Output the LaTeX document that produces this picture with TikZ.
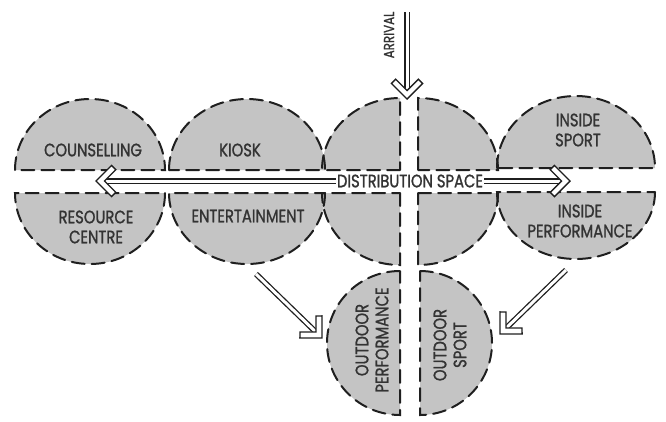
\documentclass[tikz,border=0pt]{standalone}
\usepackage{fontspec}
\setmainfont{Poppins}[FakeStretch=0.82,FakeBold=1.2]
\usetikzlibrary{calc}
\newcommand\allpieces[1]{%
  % left circle
  \path[#1] (15,170) arc[start angle=180,end angle=360,x radius=75,y radius=71] -- cycle;
  \path[#1] (165,193) arc[start angle=0,end angle=180,x radius=75,y radius=71] -- cycle;
  % kiosk / entertainment
  \path[#1] (169,170) arc[start angle=180,end angle=360,x radius=78,y radius=71] -- cycle;
  \path[#1] (325,193) arc[start angle=0,end angle=180,x radius=78,y radius=71] -- cycle;
  % central quarters
  \path[#1] (400,170) -- (322,170) arc[start angle=180,end angle=270,x radius=78,y radius=72] -- cycle;
  \path[#1] (418,170) -- (418,98) arc[start angle=270,end angle=360,x radius=80,y radius=72] -- cycle;
  \path[#1] (418,193) -- (498,193) arc[start angle=0,end angle=90,x radius=80,y radius=72] -- cycle;
  \path[#1] (400,193) -- (400,265) arc[start angle=90,end angle=180,x radius=78,y radius=72] -- cycle;
  % inside sport / performance
  \path[#1] (497,168) arc[start angle=180,end angle=360,x radius=79,y radius=72] -- cycle;
  \path[#1] (655,192) arc[start angle=0,end angle=180,x radius=79,y radius=67] -- cycle;
  % outdoor
  \path[#1] (400,271) arc[start angle=270,end angle=90,x radius=73,y radius=72] -- cycle;
  \path[#1] (420,271) arc[start angle=-90,end angle=90,x radius=72,y radius=72] -- cycle;
}
\begin{document}
\begin{tikzpicture}[x=1pt,y=-1pt,
  piece/.style={fill=black!23, draw=none},
  outline/.style={draw=black!88, line width=2pt, dash pattern=on 13pt off 7pt, line cap=round},
  lbl/.style={font=\fontsize{18}{20}\selectfont, text=black!80, align=center, inner sep=1pt},
  shaft/.style={draw=black!88, line width=1.3pt, double=white, double distance=3pt},
  chev/.style={draw=black!88, line width=1.4pt, fill=white, line join=miter},
  chevron/.pic={\path[chev] (0,0) -- (-15.6,15.6) -- (-19.8,11.3) -- (-8.5,0) -- (-19.8,-11.3) -- (-15.6,-15.6) -- cycle;},
]
\useasboundingbox[fill=white] (0,0) rectangle (666,421);
\allpieces{piece}
\allpieces{outline}

% labels
\node[lbl] (counsel) at (93,150) {COUNSELLING};
\node[lbl] (kiosk) at (240,150) {KIOSK};
\node[lbl] (resource) at (96,227) {RESOURCE\\CENTRE};
\node[lbl] (ent) at (248,216) {ENTERTAINMENT};
\node[lbl] (dist) at (410,181) {DISTRIBUTION SPACE};
\node[lbl] (isport) at (578,130) {INSIDE\\SPORT};
\node[lbl] (iperf) at (580,221) {INSIDE\\PERFORMANCE};
\node[lbl, rotate=90] (operf) at (372,340) {OUTDOOR\\PERFORMANCE};
\node[lbl, rotate=90] (osport) at (450,345) {OUTDOOR\\SPORT};
\node[lbl, rotate=90, font=\fontsize{14.5}{16}\selectfont] (arrival) at (389,35) {ARRIVAL};

% arrow end points
\coordinate (arrS) at (407,12);
\coordinate (arrT) at (407,99);
\coordinate (lT) at (96,181);
\coordinate (rT) at (570,181);
\coordinate (dlS) at (256,274);
\coordinate (dlT) at (322,338);
\coordinate (drS) at (566,270);
\coordinate (drT) at (500,334);

% shafts
\draw[shaft] (arrS) -- ($(arrT)!8.5pt!(arrS)$);
\draw[shaft] (dist.west) -- ($(lT)!8.5pt!(dist.west)$);
\draw[shaft] (dist.east) -- ($(rT)!8.5pt!(dist.east)$);
\draw[shaft] (dlS) -- ($(dlT)!8.5pt!(dlS)$);
\draw[shaft] (drS) -- ($(drT)!8.5pt!(drS)$);

% heads
\pic[rotate=-90] at (arrT) {chevron};
\pic[rotate=180] at (lT) {chevron};
\pic at (rT) {chevron};
\pic[rotate=-45] at (dlT) {chevron};
\pic[rotate=-135] at (drT) {chevron};
\end{tikzpicture}
\end{document}
